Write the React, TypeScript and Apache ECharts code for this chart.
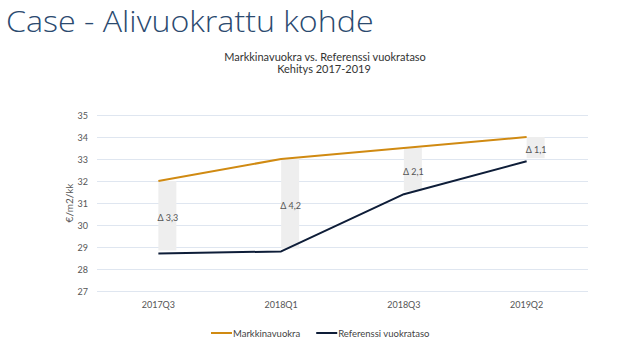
import React, { useEffect, useRef } from "react";
import * as echarts from "echarts";

const categories = ["2017Q3", "2018Q1", "2018Q3", "2019Q2"];
const markkinavuokra = [32, 33, 33.5, 34];
const referenssi = [28.7, 28.8, 31.4, 32.9];
const yTicks = { min: 27, max: 35, interval: 1 };

const ORANGE = "#d08a12";
const NAVY = "#0e1d38";
const FONT = "Lato";

export default function App() {
  const ref = useRef<HTMLDivElement>(null);
  useEffect(() => {
    if (!ref.current) return;
    const chart = echarts.init(ref.current, undefined, { renderer: "svg" });
    const gapData = categories.map((_, i) => [i, referenssi[i], markkinavuokra[i]]);
    chart.setOption({
      animation: false,
      backgroundColor: "#ffffff",
      textStyle: { fontFamily: FONT },
      graphic: [
        {
          type: "text",
          x: 6,
          y: 21,
          scaleX: 1.11,
          style: {
            text: "Case - Alivuokrattu kohde",
            fontFamily: "Open Sans",
            fontWeight: 300,
            fontSize: 29,
            fill: "#2b4a6f",
            verticalAlign: "middle",
            align: "left",
          },
        },
      ],
      title: [
        {
          text: "Markkinavuokra vs. Referenssi vuokrataso",
          left: 320,
          top: 46,
          textAlign: "center",
          textStyle: { fontFamily: FONT, fontWeight: 400, fontSize: 11, color: "#333" },
        },
        {
          text: "Kehitys 2017-2019",
          left: 319,
          top: 58,
          textAlign: "center",
          textStyle: { fontFamily: FONT, fontWeight: 400, fontSize: 11, color: "#333" },
        },
      ],
      legend: {
        left: 206,
        top: 323,
        itemWidth: 21,
        itemHeight: 2,
        itemGap: 16,
        data: [
          { name: "Markkinavuokra", icon: "rect" },
          { name: "Referenssi vuokrataso", icon: "rect" },
        ],
        textStyle: { fontFamily: FONT, fontSize: 9.5, color: "#444", padding: [0, 0, 0, -4] },
      },
      grid: { left: 97, right: 36, top: 115, bottom: 66 },
      xAxis: {
        type: "category",
        data: categories,
        boundaryGap: true,
        axisLine: { show: false },
        axisTick: { show: false },
        axisLabel: { fontFamily: FONT, fontSize: 9, color: "#555", margin: 9 },
      },
      yAxis: {
        type: "value",
        min: yTicks.min,
        max: yTicks.max,
        interval: yTicks.interval,
        name: "€/m2/kk",
        nameLocation: "middle",
        nameGap: 23,
        nameMoveOverlap: false,
        nameTextStyle: { fontFamily: FONT, fontSize: 10, color: "#555" },
        axisLine: { show: false },
        axisTick: { show: false },
        axisLabel: { fontFamily: FONT, fontSize: 9, color: "#555", margin: 9 },
        splitLine: { lineStyle: { color: "#dfe6f0", width: 1 } },
      },
      series: [
        {
          type: "custom",
          name: "gap",
          z: 1,
          data: gapData,
          renderItem: (params: any, api: any) => {
            const top = api.coord([api.value(0), api.value(2)]);
            const bot = api.coord([api.value(0), api.value(1)]);
            const d = (api.value(2) - api.value(1)).toFixed(1).replace(".", ",");
            return {
              type: "group",
              children: [
                {
                  type: "rect",
                  shape: { x: top[0], y: top[1], width: 18, height: bot[1] - top[1] - 3 },
                  style: { fill: "#eeeeee" },
                },
                {
                  type: "text",
                  x: top[0] - 1,
                  y: (top[1] + bot[1]) / 2,
                  style: {
                    text: "Δ " + d,
                    fontFamily: FONT,
                    fontSize: 9,
                    fill: "#555",
                    verticalAlign: "middle",
                    align: "left",
                  },
                },
              ],
            };
          },
        },
        {
          type: "line",
          name: "Markkinavuokra",
          data: markkinavuokra,
          symbol: "none",
          z: 3,
          lineStyle: { color: ORANGE, width: 2 },
          itemStyle: { color: ORANGE },
        },
        {
          type: "line",
          name: "Referenssi vuokrataso",
          data: referenssi,
          symbol: "none",
          z: 3,
          lineStyle: { color: NAVY, width: 2 },
          itemStyle: { color: NAVY },
        },
      ],
    });
    return () => chart.dispose();
  }, []);
  return <div ref={ref} style={{ width: 624, height: 357, position: "absolute", left: 0, top: 0 }} />;
}
